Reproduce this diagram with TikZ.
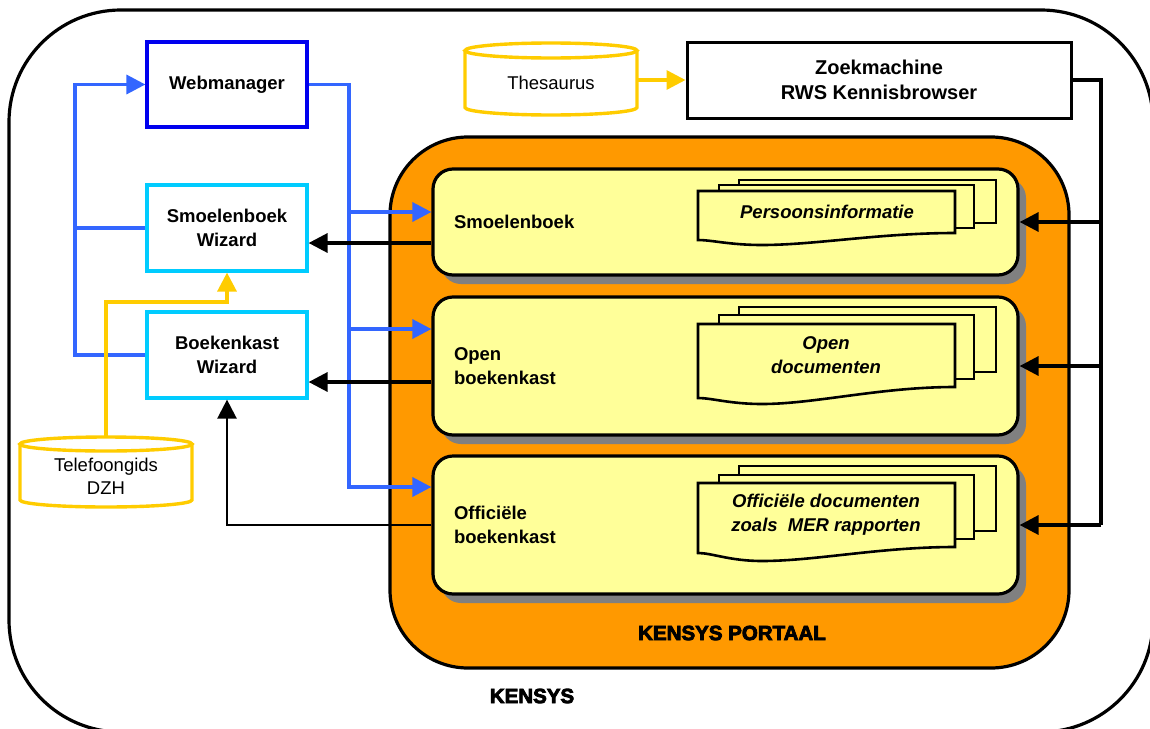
\documentclass[tikz,border=0pt]{standalone}
\usepackage{fontspec}
\setmainfont{Liberation Sans}
\newfontfamily\heavyfont{Liberation Sans}[UprightFeatures={FakeBold=4},BoldFeatures={FakeBold=4}]
\usetikzlibrary{arrows.meta,shadows}

\definecolor{portaal}{HTML}{FF9900}
\definecolor{paper}{HTML}{FFFF99}
\definecolor{shade}{HTML}{808080}
\definecolor{flow}{HTML}{3366FF}
\definecolor{navy}{HTML}{0000EE}
\definecolor{wizcyan}{HTML}{00CCFF}
\definecolor{gold}{HTML}{FFCC00}

\tikzset{
  lbl/.style={font=\fontsize{18.5}{24}\selectfont\bfseries, align=center, inner sep=0pt},
  plain/.style={font=\fontsize{18.5}{23}\selectfont, align=center, inner sep=0pt},
  toolbox/.style={lbl, line width=3.2pt, fill=white, minimum width=160pt, minimum height=86pt},
  section/.style={lbl, draw=black, line width=3.2pt, fill=paper, rounded corners=20pt,
    minimum width=585pt, text width=543pt, align=left, inner xsep=21pt,
    drop shadow={shadow xshift=8pt, shadow yshift=-9pt, fill=shade, opacity=1}},
  doc/.style={draw=black, line width=2.6pt, fill=paper, line join=miter},
  doctext/.style={inner sep=0pt, align=center, font=\fontsize{18.5}{24}\selectfont\bfseries\itshape},
  bl/.style={draw=flow, line width=3.4pt},
  bk/.style={draw=black, line width=3.4pt},
  gd/.style={draw=gold, line width=3.4pt},
  heavy/.style={inner sep=0pt, font=\fontsize{20.5}{24}\selectfont\heavyfont\bfseries},
}

% stack of three documents; #1 front top, #2 front bottom left, #3 front bottom right,
% #4 lowest point of the wave, #5/#6 middle sheet top/bottom, #7/#8 back sheet top/bottom
\newcommand{\docstack}[8]{%
  \draw[doc] (739,#7) rectangle (996,#8);
  \draw[doc] (719,#5) rectangle (974,#6);
  \draw[doc] (698,#1) -- (955,#1) -- (955,#3)
    .. controls (880,#3) and (815,#4) .. (762,#4)
    .. controls (730,#4) and (712,#2) .. (698,#2) -- cycle;
}

% data store drum; #1 left, #2 right, #3 top ellipse centre, #4 bottom ellipse centre, #5 ellipse half height
\newcommand{\drumshape}[5]{%
  \pgfmathsetmacro\drumr{(#2-#1)/2}%
  \draw[gd, fill=white] (#1,#3) -- (#1,#4)
    arc[start angle=180, end angle=360, x radius=\drumr pt, y radius=#5pt] -- (#2,#3);
  \draw[gd, fill=white] ({(#1+#2)/2},#3) ellipse[x radius=\drumr pt, y radius=#5pt];
}

\begin{document}
\begin{tikzpicture}[x=1pt, y=-1pt, >={Triangle[length=19pt,width=19pt]}]
\useasboundingbox (0,0) rectangle (1150,728);

% KENSYS frame
\draw[line width=3.2pt, rounded corners=112pt] (9,10) rectangle (1153,732);
\node[heavy] (systitle) at (532,696) {KENSYS};

% portal
\node[draw=black, line width=3.2pt, fill=portaal, rounded corners=78pt,
      minimum width=679pt, minimum height=531pt, inner sep=0pt] (portal) at (729.5,402.5) {};
\node[heavy] (portaltitle) at (732,633) {KENSYS PORTAAL};

% portal sections
\node[section, minimum height=106pt] (smb) at (725.5,222) {Smoelenboek};
\node[section, minimum height=138pt] (opb) at (725.5,366) {Open\\boekenkast};
\node[section, minimum height=138pt] (ofb) at (725.5,525) {Officiële\\boekenkast};

\docstack{191}{240}{233}{245}{185}{228}{180}{223}
\docstack{324}{398}{387}{404}{315}{379}{307}{372}
\docstack{483}{553}{547}{561}{475}{539}{466}{531}

\node[doctext] (pinfo) at (827,212) {Persoonsinformatie};
\node[doctext] (odoc) at (826,355) {Open\\documenten};
\node[doctext] (ofdoc) at (826,515) {Officiële documenten\\zoals\ \ MER rapporten};

% tools
\node[toolbox, draw=navy, minimum height=85pt] (wm) at (227,84.5) {Webmanager};
\node[toolbox, draw=wizcyan] (sw) at (227,228) {Smoelenboek\\Wizard};
\node[toolbox, draw=wizcyan] (bw) at (227,355) {Boekenkast\\Wizard};
\node[lbl, draw=black, line width=3pt, fill=white, minimum width=384pt, minimum height=76pt,
      font=\fontsize{20}{25}\selectfont\bfseries] (zoek) at (879,80) {Zoekmachine\\RWS Kennisbrowser};

% data stores
\drumshape{465}{637}{50.5}{107.5}{7.5}
\node[plain, minimum width=172pt, minimum height=80pt] (thes) at (551,83) {Thesaurus};
\drumshape{20}{192}{444}{500}{7}
\node[plain, minimum width=172pt, minimum height=79pt] (tel) at (106,476.5) {Telefoongids\\DZH};

% routing points
\coordinate (bx) at (349,0);
\coordinate (lx) at (75,0);
\coordinate (rx) at (1101,0);
\coordinate (gy) at (0,302);
\coordinate (smb-in) at ([yshift=10pt]smb.west);
\coordinate (opb-in) at ([yshift=37pt]opb.west);
\coordinate (ofb-in) at ([yshift=38pt]ofb.west);
\coordinate (smb-out) at ([yshift=-21pt]smb.west);
\coordinate (opb-out) at ([yshift=-16pt]opb.west);

% web manager links
\draw[bl,->] (wm.east) -| (bx |- ofb-in) -- (ofb-in);
\draw[bl,->] (bx |- smb-in) -- (smb-in);
\draw[bl,->] (bx |- opb-in) -- (opb-in);
\draw[bl,->] (bw.west) -| (lx |- wm.west) -- (wm.west);
\draw[bl] (sw.west) -- (lx |- sw.west);

% section outputs to the wizards
\draw[bk,->] (smb-out) -- (smb-out -| sw.east);
\draw[bk,->] (opb-out) -- (opb-out -| bw.east);
\draw[bk, line width=2.4pt, ->] (ofb.west) -| (bw.south);

% search engine feeds
\draw[bk] (zoek.east) -| (rx |- ofb.east);
\draw[bk,->] (rx |- smb.east) -- (smb.east);
\draw[bk,->] (rx |- opb.east) -- (opb.east);
\draw[bk,->] (rx |- ofb.east) -- (ofb.east);

% data store links
\draw[gd,->] (thes.east |- zoek.west) -- (zoek.west);
\draw[gd,->] (tel.north) |- (gy -| sw.south) -- (sw.south);
\end{tikzpicture}
\end{document}
